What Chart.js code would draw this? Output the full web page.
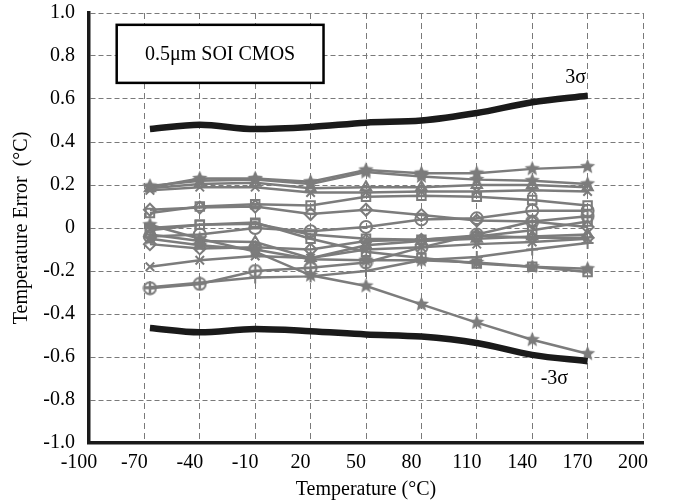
<!DOCTYPE html>
<html>
<head>
<meta charset="utf-8">
<script src="https://cdn.jsdelivr.net/npm/chart.js@4/dist/chart.umd.min.js"></script>
<style>
  html, body { margin: 0; padding: 0; background: #fff; }
  #wrap { width: 673px; height: 502px; }
</style>
</head>
<body>
<div id="wrap"><canvas id="c" width="673" height="502"></canvas></div>
<script>
// Measurement temperatures (°C)
const temps = [-67, -40, -10, 20, 50, 80, 110, 140, 170];

// ±3σ envelope of the temperature error (°C)
const sigmaPlus3  = [0.46, 0.48, 0.46, 0.47, 0.49, 0.50, 0.535, 0.585, 0.615];
const sigmaMinus3 = [-0.465, -0.485, -0.47, -0.48, -0.495, -0.505, -0.535, -0.59, -0.62];

// Individual sensor samples (°C error)
const sample01 = [0.19, 0.23, 0.23, 0.215, 0.27, 0.255, 0.255, 0.275, 0.285];
const sample02 = [0.195, 0.22, 0.225, 0.205, 0.26, 0.24, 0.225, 0.22, 0.205];
const sample03 = [0.185, 0.205, 0.21, 0.185, 0.19, 0.19, 0.2, 0.2, 0.19];
const sample04 = [0.175, 0.19, 0.19, 0.165, 0.165, 0.17, 0.17, 0.175, 0.17];
const sample05 = [0.07, 0.1, 0.11, 0.105, 0.145, 0.15, 0.145, 0.13, 0.105];
const sample06 = [0.085, 0.095, 0.1, 0.065, 0.085, 0.06, 0.035, 0.03, 0.005];
const sample07 = [-0.04, -0.03, 0.0, -0.015, 0.005, 0.04, 0.045, 0.08, 0.08];
const sample08 = [0.0, 0.015, 0.02, -0.03, -0.05, -0.055, -0.04, -0.01, 0.03];
const sample09 = [-0.03, -0.06, -0.065, -0.14, -0.08, -0.06, -0.05, -0.04, -0.03];
const sample10 = [-0.075, -0.095, -0.09, -0.1, -0.06, -0.055, -0.035, -0.045, -0.045];
const sample11 = [0.015, -0.05, -0.11, -0.22, -0.27, -0.355, -0.44, -0.52, -0.585];
const sample12 = [-0.18, -0.15, -0.13, -0.14, -0.1, -0.09, -0.075, -0.065, -0.05];
const sample13 = [-0.28, -0.26, -0.2, -0.185, -0.16, -0.09, -0.03, 0.03, 0.055];
const sample14 = [-0.275, -0.255, -0.23, -0.225, -0.2, -0.15, -0.135, -0.1, -0.07];
const sample15 = [-0.01, 0.015, 0.025, -0.05, -0.11, -0.14, -0.165, -0.18, -0.205];
const sample16 = [-0.05, -0.08, -0.1, -0.145, -0.15, -0.15, -0.16, -0.18, -0.19];

// Axis ticks
const xTicks = [-100, -70, -40, -10, 20, 50, 80, 110, 140, 170, 200];
const yTicks = [-1.0, -0.8, -0.6, -0.4, -0.2, 0, 0.2, 0.4, 0.6, 0.8, 1.0];
const yTickLabels = ['-1.0', '-0.8', '-0.6', '-0.4', '-0.2', '0', '0.2', '0.4', '0.6', '0.8', '1.0'];

const GRAY = '#7c7c7c';
const FONT = 'Liberation Serif, Times New Roman, serif';

// Marker glyphs that Chart.js does not provide
function starMarker(size) {
  const cv = document.createElement('canvas');
  cv.width = size; cv.height = size;
  const g = cv.getContext('2d');
  const c = size / 2, ro = size / 2 - 0.5, ri = ro * 0.45;
  g.beginPath();
  for (let i = 0; i < 10; i++) {
    const r = i % 2 ? ri : ro;
    const a = -Math.PI / 2 + i * Math.PI / 5;
    const px = c + r * Math.cos(a), py = c + r * Math.sin(a);
    i ? g.lineTo(px, py) : g.moveTo(px, py);
  }
  g.closePath();
  g.fillStyle = GRAY;
  g.fill();
  return cv;
}
function circlePlusMarker(size) {
  const cv = document.createElement('canvas');
  cv.width = size; cv.height = size;
  const g = cv.getContext('2d');
  const c = size / 2, r = size / 2 - 1.5;
  g.strokeStyle = GRAY; g.lineWidth = 2;
  g.beginPath(); g.arc(c, c, r, 0, Math.PI * 2); g.stroke();
  g.beginPath(); g.moveTo(c - r, c); g.lineTo(c + r, c); g.moveTo(c, c - r); g.lineTo(c, c + r); g.stroke();
  return cv;
}
const STAR = starMarker(17);
const CPLUS = circlePlusMarker(15);

function pts(values) { return values.map((v, i) => ({ x: temps[i], y: v })); }

function sample(values, style) {
  return {
    data: pts(values),
    borderColor: GRAY,
    backgroundColor: 'rgba(0,0,0,0)',
    borderWidth: 2.5,
    pointStyle: style,
    pointRadius: 6,
    pointBorderWidth: 2,
    pointBorderColor: GRAY,
    pointBackgroundColor: 'rgba(0,0,0,0)',
    tension: 0,
    order: 2
  };
}
function envelope(values) {
  return {
    data: pts(values),
    borderColor: '#1a1a1a',
    borderWidth: 6.5,
    pointRadius: 0,
    tension: 0.3,
    cubicInterpolationMode: 'monotone',
    order: 1
  };
}

const datasets = [
  sample(sample16, STAR),
  sample(sample15, 'rect'),
  sample(sample14, 'cross'),
  sample(sample13, CPLUS),
  sample(sample12, 'crossRot'),
  sample(sample11, STAR),
  sample(sample10, 'rectRot'),
  sample(sample09, 'triangle'),
  sample(sample08, 'rect'),
  sample(sample07, 'circle'),
  sample(sample06, 'rectRot'),
  sample(sample05, 'rect'),
  sample(sample04, 'crossRot'),
  sample(sample03, 'triangle'),
  sample(sample02, STAR),
  sample(sample01, STAR),
  envelope(sigmaPlus3),
  envelope(sigmaMinus3)
];

// Caption box and ±3σ labels, placed in data coordinates
const captionBox = { x0: -85, x1: 27, y0: 0.945, y1: 0.675, text: '0.5\u03bcm SOI CMOS' };
const sigmaLabels = [
  { x: 163.5, y: 0.70, text: '3\u03c3' },
  { x: 152, y: -0.70, text: '-3\u03c3' }
];

const annotations = {
  id: 'annotations',
  afterDraw(chart) {
    const { ctx, scales: { x, y } } = chart;
    ctx.save();
    const l = x.getPixelForValue(captionBox.x0), r = x.getPixelForValue(captionBox.x1);
    const t = y.getPixelForValue(captionBox.y0), b = y.getPixelForValue(captionBox.y1);
    ctx.fillStyle = '#fff';
    ctx.fillRect(l, t, r - l, b - t);
    ctx.strokeStyle = '#000';
    ctx.lineWidth = 2.5;
    ctx.strokeRect(l, t, r - l, b - t);
    ctx.fillStyle = '#000';
    ctx.font = '20px ' + FONT;
    ctx.textAlign = 'center';
    ctx.textBaseline = 'middle';
    ctx.fillText(captionBox.text, (l + r) / 2, (t + b) / 2 + 1);
    sigmaLabels.forEach(s => {
      ctx.fillText(s.text, x.getPixelForValue(s.x), y.getPixelForValue(s.y));
    });
    ctx.restore();
  }
};

new Chart(document.getElementById('c'), {
  type: 'line',
  data: { datasets },
  plugins: [annotations],
  options: {
    responsive: false,
    animation: false,
    events: [],
    layout: { padding: { top: 13, right: 30, left: 0, bottom: 0 } },
    plugins: { legend: { display: false }, tooltip: { enabled: false } },
    scales: {
      x: {
        type: 'linear',
        min: -100, max: 200,
        afterBuildTicks: s => { s.ticks = xTicks.map(v => ({ value: v })); },
        afterFit: s => { s.height = 59; s.paddingLeft = 0; s.paddingRight = 0; },
        ticks: {
          color: '#000',
          font: { family: FONT, size: 20 },
          padding: 8,
          labelOffset: -10,
          maxRotation: 0,
          autoSkip: false
        },
        grid: { color: '#7a7a7a', lineWidth: 1, drawTicks: false },
        border: { display: true, color: '#1a1a1a', width: 3.5, dash: [6, 4] },
        title: {
          display: true,
          text: 'Temperature (\u00b0C)',
          color: '#000',
          font: { family: FONT, size: 20 },
          padding: { top: 0, bottom: 0 }
        }
      },
      y: {
        type: 'linear',
        min: -1, max: 1,
        afterBuildTicks: s => { s.ticks = yTicks.map(v => ({ value: v })); },
        afterFit: s => { s.width = 89; s.paddingTop = 0; s.paddingBottom = 0; },
        ticks: {
          color: '#000',
          font: { family: FONT, size: 20 },
          padding: 14,
          autoSkip: false,
          callback: (v) => yTickLabels[yTicks.findIndex(t => Math.abs(t - v) < 1e-9)]
        },
        grid: { color: '#7a7a7a', lineWidth: 1, drawTicks: false },
        border: { display: true, color: '#1a1a1a', width: 3.5, dash: [5, 3] },
        title: {
          display: true,
          text: 'Temperature Error  (\u00b0C)',
          color: '#000',
          font: { family: FONT, size: 20 },
          padding: { top: 10, bottom: 0 }
        }
      }
    }
  }
});
</script>
</body>
</html>
